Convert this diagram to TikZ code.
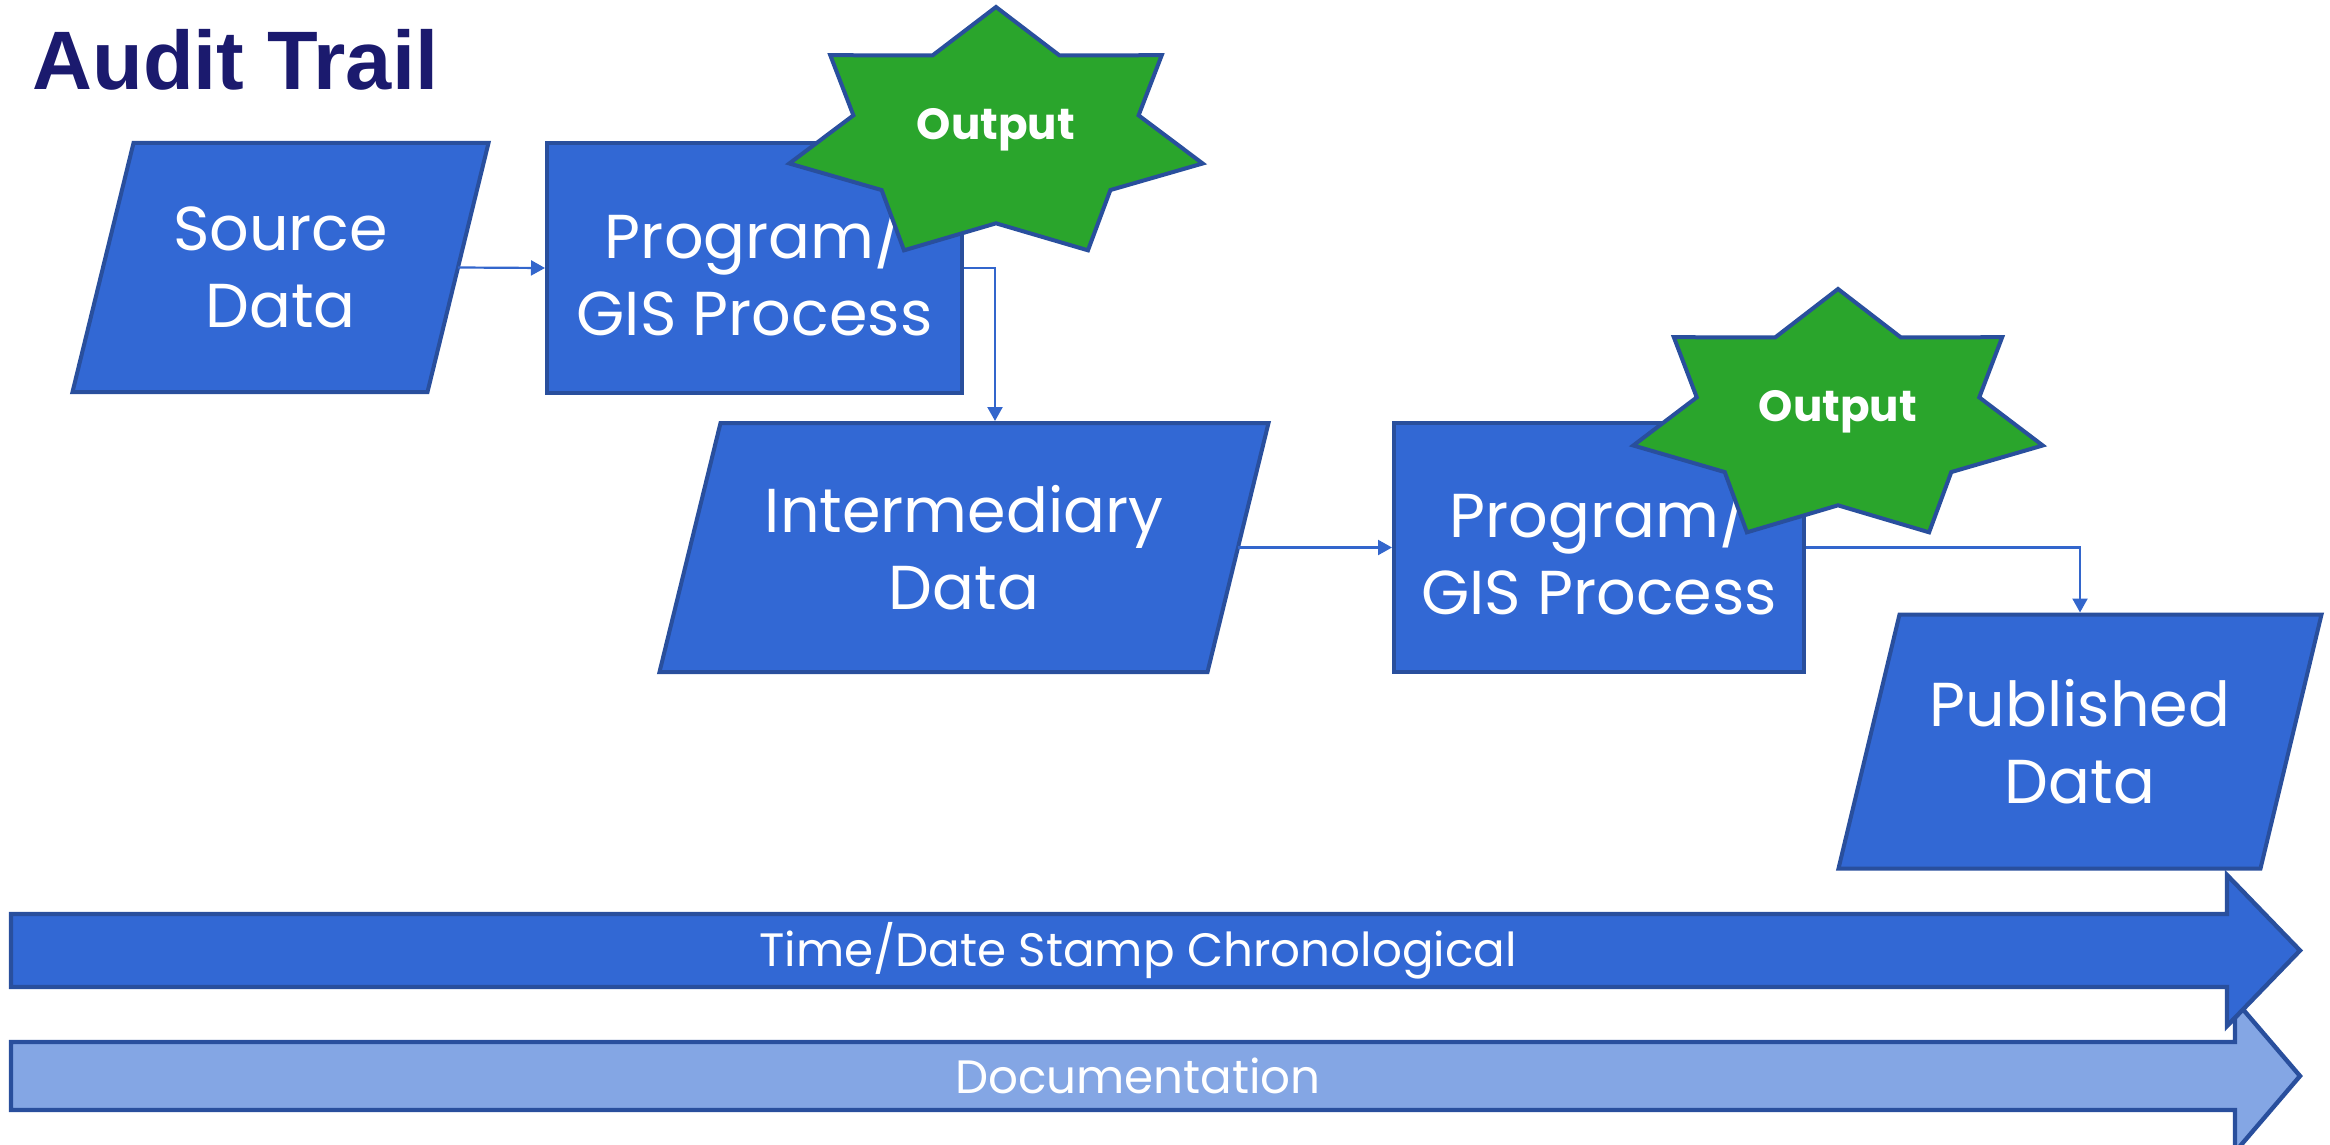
\documentclass[tikz,border=0pt]{standalone}
\usepackage{fontspec}
\setmainfont{Poppins}
\newfontfamily\mygothic{Poppins}
\newfontfamily\mytitlefont{Liberation Sans}
\usetikzlibrary{arrows.meta,backgrounds}
\definecolor{boxblue}{RGB}{50,104,212}
\definecolor{edgeblue}{RGB}{41,79,157}
\definecolor{linkblue}{RGB}{51,102,204}
\definecolor{stargreen}{RGB}{42,165,44}
\definecolor{lightblue}{RGB}{132,166,228}
\definecolor{titleblue}{RGB}{27,26,110}
\newcommand\myboxfont{\mygothic\fontsize{31}{38.5}\selectfont}
\newcommand\myarrowfont{\mygothic\fontsize{23.4}{28}\selectfont}
\newcommand\myoutfont{\mygothic\bfseries\fontsize{21.8}{26}\selectfont}
% parallelogram drawn round a named text node (half slant 15.25pt)
\newcommand\myparallelogram[1]{%
  \draw[shapeborder, fill=boxblue]
    ([xshift=15.25pt]#1.north west) -- ([xshift=15.25pt]#1.north east)
    -- ([xshift=-15.25pt]#1.south east) -- ([xshift=-15.25pt]#1.south west) -- cycle;}
\begin{document}
\begin{tikzpicture}[x=0.5pt,y=-0.5pt,
  shapeborder/.style={draw=edgeblue, line width=2pt, line join=miter},
  datatext/.style={rectangle, minimum height=124.5pt, outer sep=0pt,
    text=white, align=center, font=\myboxfont, inner sep=0pt},
  procbox/.style={shapeborder, fill=boxblue, rectangle, minimum height=124.5pt,
    text=white, align=center, font=\myboxfont, inner sep=0pt},
  link/.style={draw=linkblue, line width=1.1pt, -{Triangle[length=7pt,width=7.5pt]}},
  starshape/.style={shapeborder, fill=stargreen},
  outtext/.style={text=white, font=\myoutfont, inner sep=0pt},
  bigarrow/.style={draw=edgeblue, line width=2.2pt, line join=miter},
  arrowtext/.style={text=white, font=\myarrowfont, inner sep=0pt}
]
\useasboundingbox (0,0) rectangle (2330,1145);

% title
\node[anchor=base west, font=\mytitlefont\bfseries\fontsize{41.5}{48}\selectfont,
  text=titleblue, inner sep=0pt] (title) at (32,90) {Audit Trail};

% flow shapes
\node[datatext, minimum width=177.5pt] (src) at (280.5,267.5) {Source\\Data};
\node[procbox, minimum width=207.5pt] (prog1) at (754.5,268) {Program/\\GIS Process};
\node[datatext, minimum width=274pt] (inter) at (964,547.5) {Intermediary\\Data};
\node[procbox, minimum width=205pt] (prog2) at (1599,547.5) {Program/\\GIS Process};
\node[datatext, minimum width=211pt, minimum height=127pt] (pub) at (2080,741.5) {Published\\Data};
\begin{scope}[on background layer]
  \myparallelogram{src}
  \myparallelogram{inter}
  \myparallelogram{pub}
\end{scope}

% connectors
\draw[link] (src.east) -- (prog1.west);
\draw[link, shorten >=1pt] (prog1.east) -| ([xshift=15.5pt]inter.north);
\draw[link] (inter.east) -- (prog2.west);
\draw[link, shorten >=1pt] (prog2.east) -| (pub.north);

% output stars
\begin{scope}[shift={(996,135)}]
  \draw[starshape] ({212*cos(90)},{-128*sin(90)})
    \foreach \i in {1,...,13} {
      -- ({(0.845+0.155*cos(180*\i))*212*cos(90+\i*25.7143)},
          {-(0.845+0.155*cos(180*\i))*128*sin(90+\i*25.7143)}) } -- cycle;
\end{scope}
\node[outtext] (out1) at (996,130) {Output};

\begin{scope}[shift={(1838,417)}]
  \draw[starshape] ({210*cos(90)},{-128*sin(90)})
    \foreach \i in {1,...,13} {
      -- ({(0.845+0.155*cos(180*\i))*210*cos(90+\i*25.7143)},
          {-(0.845+0.155*cos(180*\i))*128*sin(90+\i*25.7143)}) } -- cycle;
\end{scope}
\node[outtext] (out2) at (1838,412) {Output};

% bottom arrows
\draw[bigarrow, fill=lightblue] (11,1042) -- (2235,1042) -- (2235,1000) -- (2300,1076)
  -- (2235,1152) -- (2235,1110) -- (11,1110) -- cycle;
\node[arrowtext] (doc) at (1138,1076) {Documentation};

\draw[bigarrow, fill=boxblue] (11,914) -- (2227,914) -- (2227,875) -- (2300,950.5)
  -- (2227,1026) -- (2227,987) -- (11,987) -- cycle;
\node[arrowtext] (tds) at (1138,950.5) {Time/Date Stamp Chronological};
\end{tikzpicture}
\end{document}
